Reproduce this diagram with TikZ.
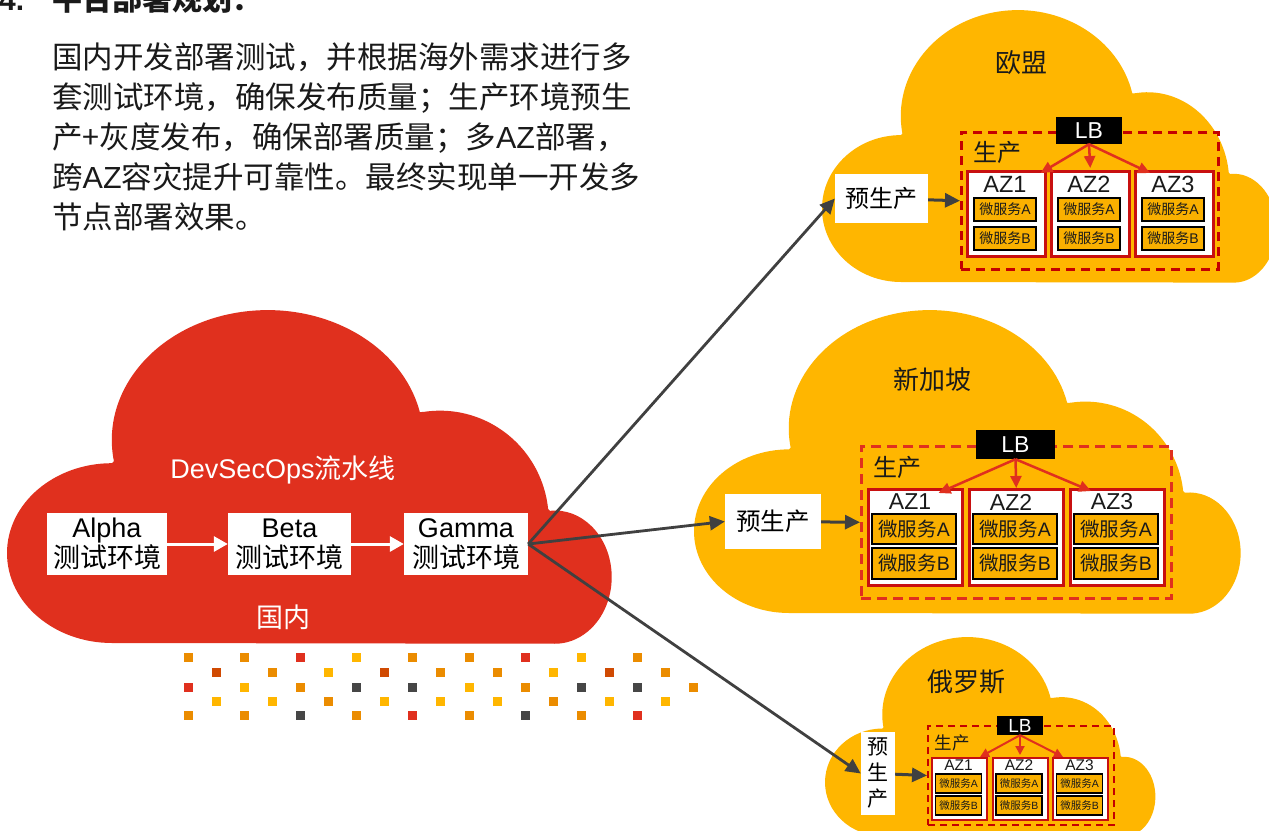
\documentclass[tikz,border=0pt]{standalone}
\usepackage{fontspec}
\setmainfont{Noto Sans CJK SC}
\newfontfamily\lat{Liberation Sans}
\usetikzlibrary{arrows.meta,calc}
\definecolor{pwcred}{RGB}{224,48,30}
\definecolor{pwcyel}{RGB}{255,182,0}
\definecolor{msyel}{RGB}{250,176,0}
\definecolor{dotO}{RGB}{235,140,0}
\definecolor{dotD}{RGB}{208,74,2}
\definecolor{dotY}{RGB}{255,182,0}
\definecolor{dotR}{RGB}{224,48,30}
\definecolor{dotG}{RGB}{70,70,70}
\definecolor{azred}{RGB}{200,16,16}
\definecolor{dashred}{RGB}{196,0,0}
\definecolor{arrgray}{RGB}{64,64,64}
\definecolor{txt}{RGB}{26,26,26}
\newcommand\mycloud[5]{%
  \begin{scope}[shift={(#1,#2)},xscale=#3,yscale=-#4]
  \fill[#5] (0.174,0) arc[start angle=270,end angle=90,x radius=0.174,y radius=0.27]
    -- (0.177,0.546) arc[start angle=189.4,end angle=12.4,x radius=0.258,y radius=0.39]
    -- (0.690,0.694) arc[start angle=98.6,end angle=6,x radius=0.18,y radius=0.33]
    -- (0.899,0.397) arc[start angle=95,end angle=-90,x radius=0.094,y radius=0.2]
    -- cycle;
  \end{scope}}
\tikzset{
  paraline/.style={anchor=base west,inner sep=0pt,font=\fontsize{30.5}{40}\selectfont,text=txt},
  pipebox/.style={fill=white,inner sep=0pt,align=center,font=\fontsize{27}{30}\selectfont,text=black},
  whitearrow/.style={draw=white,line width=3pt,-{Triangle[length=14pt,width=15pt]}},
  grayarrow/.style={draw=arrgray,line width=2.8pt,-{Triangle[length=15pt,width=14pt]}},
  title/.style={inner sep=0pt,font=\fontsize{26}{30}\selectfont,text=txt},
  prebox/.style={fill=white,inner sep=0pt,align=center,text=black},
  prodbox/.style={anchor=north west,inner sep=0pt,dashed},
  lbbox/.style={fill=black,text=white,inner sep=0pt},
  azbox/.style={anchor=north west,draw=azred,fill=white,inner sep=0pt},
  msbox/.style={draw=black,fill=msyel,inner sep=0pt,text=txt},
  lbarrow/.style={draw=pwcred,line width=2.5pt,-{Triangle[length=12pt,width=11pt]}},
  lbarrowsm/.style={draw=pwcred,line width=2pt,-{Triangle[length=9pt,width=9pt]}},
  plain/.style={inner sep=0pt,text=txt}
}
\begin{document}
\begin{tikzpicture}[x=1pt,y=-1pt]
\useasboundingbox (0,0) rectangle (1269,830);
\fill[white] (0,0) rectangle (1269,830);
\clip (0,0) rectangle (1269,830);

% header and paragraph
\node[anchor=base west,inner sep=0pt,font=\fontsize{30}{36}\selectfont\bfseries,text=txt] (hdr) at (-1,10) {{\lat\bfseries 4.}\hspace{28pt}平台部署规划：};
\node[paraline] (p1) at (52,68.5) {国内开发部署测试，并根据海外需求进行多};
\node[paraline] (p2) at (52,108.5) {套测试环境，确保发布质量；生产环境预生};
\node[paraline] (p3) at (52,148.5) {产+灰度发布，确保部署质量；多{\lat AZ}部署，};
\node[paraline] (p4) at (52,188.5) {跨{\lat AZ}容灾提升可靠性。最终实现单一开发多};
\node[paraline] (p5) at (52,228) {节点部署效果。};

% clouds
\mycloud{7}{643}{604}{333}{pwcred}
\mycloud{822}{282}{454}{272}{pwcyel}
\mycloud{694}{613}{546}{303}{pwcyel}
\mycloud{825}{836}{330}{199}{pwcyel}

% dots
\foreach \y/\xs/\cl in {657.5/188/{O,O,R,Y,O,O,R,Y,O},
                        672.5/216/{D,O,Y,D,O,O,Y,D,O},
                        687/188/{R,Y,O,G,G,Y,O,G,G,O},
                        701/216/{Y,Y,O,Y,Y,Y,O,Y,Y},
                        715.5/188/{O,O,G,O,R,O,G,O,R}}{
  \foreach \c [count=\k from 0] in \cl {
    \fill[dot\c] (\xs+\k*56.2-4.5,\y-4.5) rectangle ++(9,9);
  }
}

% domestic cloud
\node[inner sep=0pt,text=white,font=\fontsize{27}{30}\selectfont] (devsec) at (283,470) {{\lat DevSecOps}流水线};
\node[inner sep=0pt,text=white,font=\fontsize{27}{30}\selectfont] (guonei) at (283,617) {国内};
\node[pipebox,minimum width=120pt,minimum height=62pt] (alpha) at (107,544) {{\lat Alpha}\\测试环境};
\node[pipebox,minimum width=123pt,minimum height=62pt] (beta) at (289.5,544) {{\lat Beta}\\测试环境};
\node[pipebox,minimum width=124pt,minimum height=62pt] (gamma) at (466,544) {{\lat Gamma}\\测试环境};
\draw[whitearrow] (alpha) -- (beta);
\draw[whitearrow] (beta) -- (gamma);

% ---------- EU ----------
\node[title] (eut) at (1021,63) {欧盟};
\node[prebox,minimum width=93pt,minimum height=49pt,font=\fontsize{24}{28}\selectfont] (eupre) at (881.5,198.5) {预生产};
\node[prodbox,draw=dashred,line width=2.5pt,dash pattern=on 9pt off 6pt,minimum width=257pt,minimum height=137pt] (euprod) at (960,131) {};
\node[plain,font=\fontsize{24}{28}\selectfont] (eusc) at (997,152) {生产};
\foreach \i/\x in {1/966,2/1050,3/1134}{
  \node[azbox,line width=2.5pt,minimum width=78pt,minimum height=85pt] (euaz\i) at (\x,170) {};
  \node[plain,font=\lat\fontsize{23.5}{26}\selectfont] (euazl\i) at (\x+39,184) {AZ\i};
  \node[msbox,line width=2pt,minimum width=62pt,minimum height=23pt,font=\fontsize{14}{16}\selectfont] (eua\i) at (\x+39,209.5) {微服务{\lat A}};
  \node[msbox,line width=2pt,minimum width=62pt,minimum height=23pt,font=\fontsize{14}{16}\selectfont] (eub\i) at (\x+39,238.5) {微服务{\lat B}};
}
\node[lbbox,minimum width=66pt,minimum height=27pt,font=\lat\fontsize{23}{26}\selectfont] (eulb) at (1089,130.5) {LB};
\draw[lbarrow] (eulb.south) -- ([xshift=-6pt,yshift=-3pt]euaz1.north east);
\draw[lbarrow] (eulb.south) -- ([yshift=2pt]euaz2.north);
\draw[lbarrow] (eulb.south) -- ([xshift=16pt,yshift=-3pt]euaz3.north west);
\draw[grayarrow,line width=3pt] (eupre) -- (euprod.west);

% ---------- Singapore ----------
\node[title] (sgt) at (932,380) {新加坡};
\node[prebox,minimum width=96pt,minimum height=55pt,font=\fontsize{24.5}{28}\selectfont] (sgpre) at (773,521.5) {预生产};
\node[prodbox,draw=pwcred,line width=2.5pt,dash pattern=on 10pt off 6pt,minimum width=310pt,minimum height=152pt] (sgprod) at (860,445) {};
\node[plain,font=\fontsize{24}{28}\selectfont] (sgsc) at (897,467) {生产};
\foreach \i/\x in {1/867,2/968,3/1069}{
  \node[azbox,line width=2.5pt,minimum width=94pt,minimum height=96pt] (sgaz\i) at (\x,488) {};
  \node[plain,font=\lat\fontsize{23}{26}\selectfont] (sgazl\i) at (\x+43,502) {AZ\i};
  \node[msbox,line width=2pt,minimum width=84pt,minimum height=30pt,font=\fontsize{19.5}{22}\selectfont] (sga\i) at (\x+47,529) {微服务{\lat A}};
  \node[msbox,line width=2pt,minimum width=84pt,minimum height=31pt,font=\fontsize{19.5}{22}\selectfont] (sgb\i) at (\x+47,563.5) {微服务{\lat B}};
}
\node[lbbox,minimum width=79pt,minimum height=29pt,font=\lat\fontsize{23}{26}\selectfont] (sglb) at (1015.5,444.5) {LB};
\draw[lbarrow] (sglb.south) -- ([xshift=-25pt,yshift=-5pt]sgaz1.north east);
\draw[lbarrow] (sglb.south) -- (sgaz2.north);
\draw[lbarrow] (sglb.south) -- ([xshift=22pt,yshift=-3pt]sgaz3.north west);
\draw[grayarrow,line width=3pt] (sgpre) -- (sgprod.west);

% ---------- Russia ----------
\node[title] (rut) at (966,682) {俄罗斯};
\node[prebox,minimum width=34pt,minimum height=83pt,font=\fontsize{21}{26}\selectfont] (rupre) at (878,773.5) {预\\生\\产};
\node[prodbox,draw=dashred,line width=2pt,dash pattern=on 7pt off 5pt,minimum width=186pt,minimum height=99pt] (ruprod) at (927,725) {};
\node[plain,font=\fontsize{17.5}{20}\selectfont] (rusc) at (952,743) {生产};
\foreach \i/\x in {1/931,2/991.5,3/1052}{
  \node[azbox,line width=2pt,minimum width=55pt,minimum height=62pt] (ruaz\i) at (\x,757) {};
  \node[plain,font=\lat\fontsize{15.5}{18}\selectfont] (ruazl\i) at (\x+27.5,765) {AZ\i};
  \node[msbox,line width=1.5pt,minimum width=46pt,minimum height=19pt,font=\fontsize{10.5}{12}\selectfont] (rua\i) at (\x+27.5,783.5) {微服务{\lat A}};
  \node[msbox,line width=1.5pt,minimum width=46pt,minimum height=19pt,font=\fontsize{10.5}{12}\selectfont] (rub\i) at (\x+27.5,805.5) {微服务{\lat B}};
}
\node[lbbox,minimum width=46pt,minimum height=19pt,font=\lat\fontsize{19}{22}\selectfont] (rulb) at (1020,725.5) {LB};
\draw[lbarrowsm] (rulb.south) -- ([xshift=-8pt]ruaz1.north east);
\draw[lbarrowsm] (rulb.south) -- ([yshift=2pt]ruaz2.north);
\draw[lbarrowsm] (rulb.south) -- ([xshift=11pt]ruaz3.north west);
\draw[grayarrow,line width=3pt] (rupre) -- (ruprod.west);

% connectors from Gamma
\draw[grayarrow] (gamma.east) -- (eupre.west);
\draw[grayarrow] (gamma.east) -- (sgpre.west);
\draw[grayarrow] (gamma.east) -- (rupre.west);
\end{tikzpicture}
\end{document}
